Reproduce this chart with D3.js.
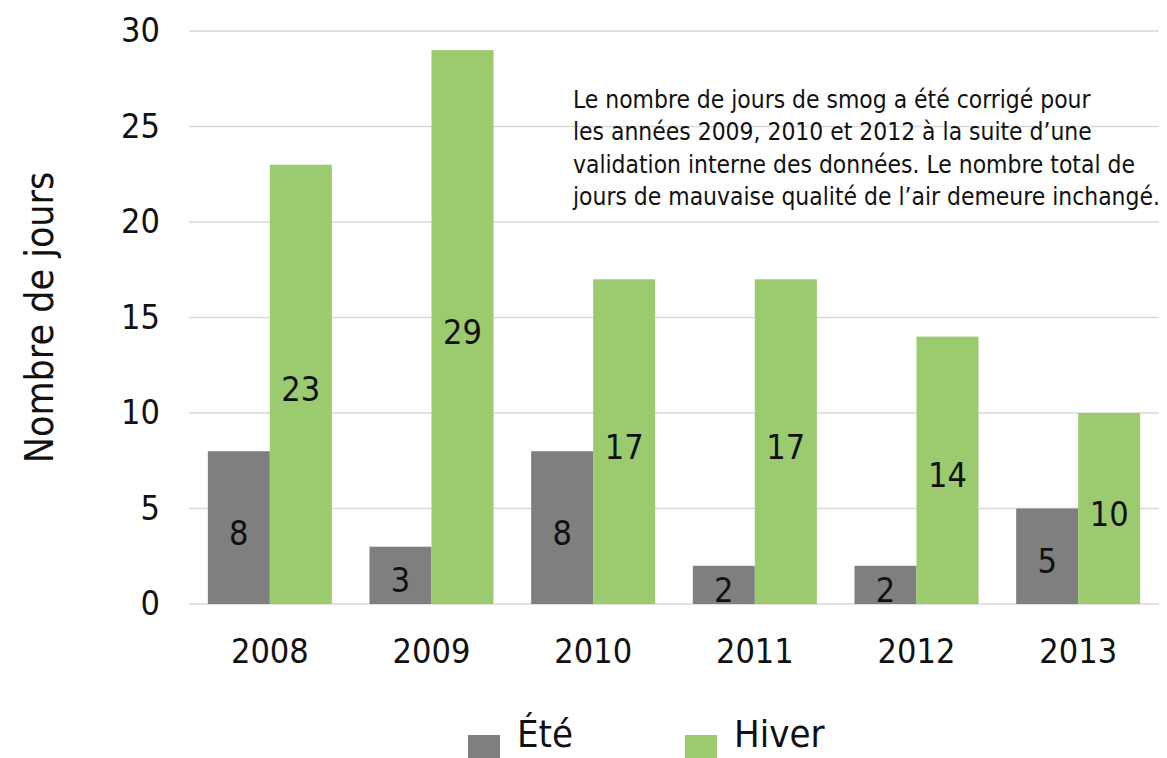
<!DOCTYPE html>
<html>
<head>
<meta charset="utf-8">
<script src="https://cdn.jsdelivr.net/npm/d3@7"></script>
<style>
  body { margin: 0; background: #fff; }
  svg { display: block; }
  text { font-family: "DejaVu Sans Condensed", "DejaVu Sans", sans-serif; font-stretch: condensed; fill: #111; }
</style>
</head>
<body>
<svg id="chart" width="1167" height="758"></svg>
<script>
// donnees
const annees = ["2008", "2009", "2010", "2011", "2012", "2013"];
const ete = [8, 3, 8, 2, 2, 5];
const hiver = [23, 29, 17, 17, 14, 10];
const series = ["Été", "Hiver"];
const couleurs = ["#7f7f7f", "#9bcb6e"];
const yTicks = [0, 5, 10, 15, 20, 25, 30];
const note = [
  "Le nombre de jours de smog a été corrigé pour",
  "les années 2009, 2010 et 2012 à la suite d’une",
  "validation interne des données. Le nombre total de",
  "jours de mauvaise qualité de l’air demeure inchangé."
];

const svg = d3.select("#chart");
const plot = {left: 189, right: 1159, top: 31, bottom: 604};

const x = d3.scaleBand().domain(annees).range([plot.left, plot.right]).paddingInner(0.233).paddingOuter(0.1165);
const xs = d3.scaleBand().domain(series).range([0, x.bandwidth()]);
const y = d3.scaleLinear().domain([0, 30]).range([plot.bottom, plot.top]);

// grille
svg.append("g").selectAll("line").data(yTicks).join("line")
  .attr("x1", plot.left).attr("x2", plot.right)
  .attr("y1", d => y(d)).attr("y2", d => y(d))
  .attr("stroke", "#d9d9d9").attr("stroke-width", 1.5);

// axe y
const yAxis = svg.append("g").attr("transform", `translate(${plot.left},0)`)
  .call(d3.axisLeft(y).tickValues(yTicks).tickSize(0).tickPadding(29));
yAxis.select(".domain").remove();
yAxis.selectAll("text").attr("font-size", 34).attr("fill", "#111")
  .style("font-family", "'DejaVu Sans Condensed', sans-serif");

// axe x
const xAxis = svg.append("g").attr("transform", `translate(0,${plot.bottom})`)
  .call(d3.axisBottom(x).tickSize(0).tickPadding(0));
xAxis.select(".domain").remove();
xAxis.selectAll("text").attr("font-size", 34).attr("fill", "#111").attr("dy", 59)
  .attr("y", 0)
  .style("font-family", "'DejaVu Sans Condensed', sans-serif");

// barres
const rows = annees.map((a, i) => ({annee: a, vals: [ete[i], hiver[i]]}));
const groups = svg.append("g").selectAll("g").data(rows).join("g")
  .attr("transform", d => `translate(${x(d.annee)},0)`);

groups.selectAll("rect").data(d => d.vals.map((v, k) => ({s: series[k], v, k}))).join("rect")
  .attr("x", d => xs(d.s))
  .attr("width", xs.bandwidth())
  .attr("y", d => y(d.v))
  .attr("height", d => y(0) - y(d.v))
  .attr("fill", d => couleurs[d.k]);

groups.selectAll("text").data(d => d.vals.map((v, k) => ({s: series[k], v, k}))).join("text")
  .attr("x", d => xs(d.s) + xs.bandwidth() / 2)
  .attr("y", d => (y(d.v) + y(0)) / 2)
  .attr("dy", "0.5em")
  .attr("text-anchor", "middle")
  .attr("font-size", 34)
  .text(d => d.v);

// titre axe y
svg.append("text")
  .attr("transform", `translate(53,${(plot.top + plot.bottom) / 2}) rotate(-90)`)
  .attr("text-anchor", "middle")
  .attr("font-size", 39)
  .text("Nombre de jours");

// note
svg.append("g").selectAll("text").data(note).join("text")
  .attr("x", 573)
  .attr("y", (d, i) => 108 + i * 32.4)
  .attr("font-size", 24.4)
  .text(d => d);

// legende
const leg = svg.append("g").selectAll("g").data(series).join("g")
  .attr("transform", (d, i) => `translate(${[468, 685][i]},735)`);
leg.append("rect").attr("width", 32).attr("height", 32).attr("fill", (d, i) => couleurs[i]);
leg.append("text").attr("x", 49).attr("y", 12).attr("font-size", 38).text(d => d);
</script>
</body>
</html>
